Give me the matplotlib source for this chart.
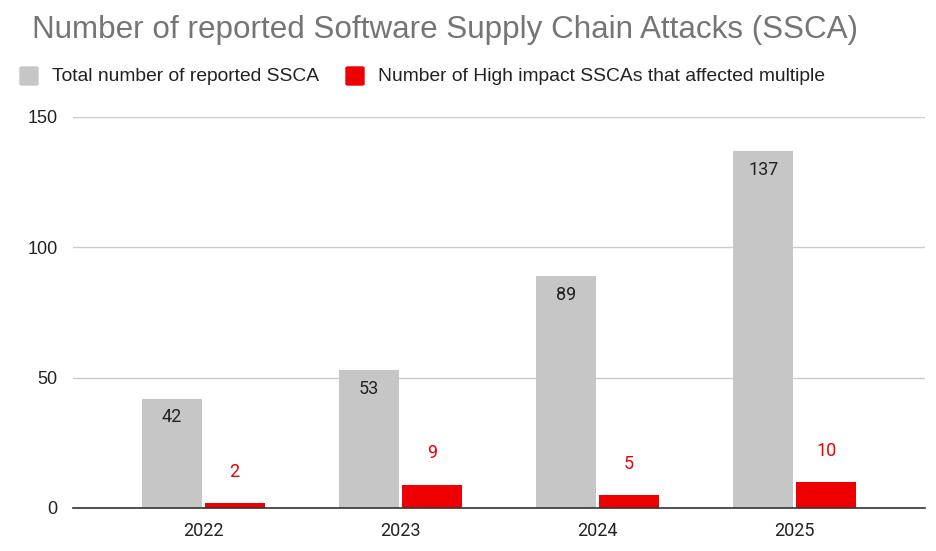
import matplotlib
matplotlib.use("Agg")
import matplotlib.pyplot as plt
from matplotlib.patches import FancyBboxPatch
import numpy as np

years = ["2022", "2023", "2024", "2025"]
total_ssca = [42, 53, 89, 137]
high_impact = [2, 9, 5, 10]
series_names = ["Total number of reported SSCA",
                "Number of High impact SSCAs that affected multiple"]
title = "Number of reported Software Supply Chain Attacks (SSCA)"
yticks = [0, 50, 100, 150]

GRAY = "#c6c6c6"
RED = "#ee0000"
W, H = 936, 551

fig = plt.figure(figsize=(W / 100, H / 100), dpi=100)
ax = fig.add_axes([73 / W, 1 - 508 / H, (925 - 73) / W, (508 - 117) / H])

x = np.arange(len(years))
bw = 0.305
gap = 0.007
b1 = ax.bar(x - bw / 2 - gap, total_ssca, bw, color=GRAY, zorder=3)
b2 = ax.bar(x + bw / 2 + gap, high_impact, bw, color=RED, zorder=3)

for rect, v in zip(b1, total_ssca):
    ax.annotate(str(v), (rect.get_x() + rect.get_width() / 2, v),
                xytext=(0, -13.5), textcoords="offset points",
                ha="center", va="center", fontsize=13, color="#222222",
                family="Roboto", zorder=4)
for rect, v in zip(b2, high_impact):
    ax.annotate(str(v), (rect.get_x() + rect.get_width() / 2, v),
                xytext=(0, 22.5), textcoords="offset points",
                ha="center", va="center", fontsize=13, color=RED,
                family="Roboto", zorder=4)

ax.set_xlim(-0.66, 3.66)
ax.set_ylim(0, 150)
ax.set_yticks(yticks)
ax.set_yticklabels([str(t) for t in yticks], family="Liberation Sans", fontsize=13, color="#222222")
ax.set_xticks(x)
ax.set_xticklabels(years, family="Roboto", fontsize=13, color="#222222")
ax.tick_params(axis="both", length=0)
ax.tick_params(axis="y", pad=11)
ax.tick_params(axis="x", pad=10)
ax.grid(axis="y", color="#cccccc", linewidth=1.0, zorder=0)
for s in ["top", "right", "left"]:
    ax.spines[s].set_visible(False)
ax.spines["bottom"].set_color("#333333")
ax.spines["bottom"].set_linewidth(1.2)
ax.spines["bottom"].set_zorder(5)

fig.text(32 / W, 1 - 30 / H, title, ha="left", va="center", fontsize=22.6,
         color="#757575", family="Liberation Sans")

# legend
ly = 76
for (x0, col, txt_x, name) in [(20, GRAY, 52, series_names[0]), (346, RED, 378, series_names[1])]:
    fig.patches.append(FancyBboxPatch((x0 / W, 1 - (ly + 9) / H), 18 / W, 18 / H,
                                      boxstyle="round,pad=0,rounding_size=0.002",
                                      transform=fig.transFigure, color=col))
    fig.text(txt_x / W, 1 - ly / H, name, ha="left", va="center", fontsize=13.9,
             color="#222222", family="Liberation Sans")

fig.savefig("out.png", dpi=100)
